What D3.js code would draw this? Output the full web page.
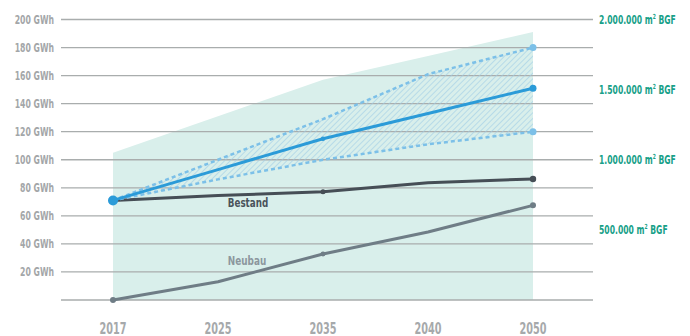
<!DOCTYPE html>
<html><head><meta charset="utf-8">
<script src="https://cdn.jsdelivr.net/npm/d3@7"></script>
<style>
html,body{margin:0;padding:0;background:#fff;}
svg{display:block;font-family:"DejaVu Sans Condensed","DejaVu Sans",sans-serif;}
</style></head>
<body><svg id="c" width="690" height="336"></svg>
<script>
const years = ["2017","2025","2035","2040","2050"];
const potential = [105, 131, 157, 174, 191];
const upper = [71, 100, 129, 161, 180];
const lower = [71, 86, 100, 111, 120];
const mid = [71, 93, 115, 133, 151];
const bestand = [71, 74.5, 77.2, 83.6, 86.3];
const neubau = [0, 13, 32.8, 48.5, 67.5];
const leftTicks = [20,40,60,80,100,120,140,160,180,200];
const gridTicks = [0,20,40,60,80,100,120,140,160,180,200];
const rightTicks = [500000,1000000,1500000,2000000];
const rightLabels = ["500.000","1.000.000","1.500.000","2.000.000"];

const svg = d3.select("#c");
const x = d3.scalePoint().domain(years).range([113,533]);
const y = d3.scaleLinear().domain([0,200]).range([300,19.5]);
const y2 = d3.scaleLinear().domain([0,2000000]).range([300,19.5]);

const defs = svg.append("defs");
const pat = defs.append("pattern").attr("id","hatch").attr("patternUnits","userSpaceOnUse")
  .attr("width",4).attr("height",4).attr("patternTransform","rotate(45)");
pat.append("line").attr("x1",0).attr("y1",0).attr("x2",0).attr("y2",4)
  .attr("stroke","#9fcde6").attr("stroke-width",1.2);

// background potential area
svg.append("path").datum(potential)
  .attr("d", d3.area().x((d,i)=>x(years[i])).y0(y(0)).y1(d=>y(d)))
  .attr("fill","#d9efeb");

// grid
svg.append("g").selectAll("line").data(gridTicks).join("line")
  .attr("x1",61).attr("x2",593).attr("y1",d=>y(d)).attr("y2",d=>y(d))
  .attr("stroke","#a9adad").attr("stroke-width",1.3);

// left labels
svg.append("g").selectAll("text").data(leftTicks).join("text")
  .attr("transform",d=>`translate(54,${y(d)}) scale(0.75,1)`)
  .attr("dy","0.36em").attr("text-anchor","end")
  .attr("font-size",11.5).attr("font-weight","bold").attr("fill","#a3a6a8")
  .text(d=>d+" GWh");

// right labels
const rl = svg.append("g").selectAll("text").data(rightTicks).join("text")
  .attr("transform",d=>`translate(599,${y2(d)+4.3}) scale(0.71,1)`)
  .attr("font-size",12).attr("font-weight","bold").attr("fill","#17a088");
rl.append("tspan").text((d,i)=>rightLabels[i]+" m");
rl.append("tspan").attr("font-size",7).attr("dy",-5).text("2");
rl.append("tspan").attr("dy",5).text(" BGF");

// year labels
svg.append("g").selectAll("text").data(years).join("text")
  .attr("transform",d=>`translate(${x(d)},334) scale(0.72,1)`)
  .attr("text-anchor","middle")
  .attr("font-size",15).attr("font-weight","bold").attr("fill","#a6a9ab")
  .text(d=>d);

const curve = d3.curveLinear;
// hatched band
svg.append("path").datum(years)
  .attr("d", d3.area().curve(curve).x(d=>x(d)).y0((d,i)=>y(lower[i])).y1((d,i)=>y(upper[i])))
  .attr("fill","url(#hatch)");

const line = d3.line().curve(curve).x((d,i)=>x(years[i])).y(d=>y(d));
function drawLine(data,color,w,dash){
  svg.append("path").datum(data).attr("d",line).attr("fill","none")
    .attr("stroke",color).attr("stroke-width",w).attr("stroke-dasharray",dash||null)
    .attr("stroke-linecap", dash? "butt":"round").attr("stroke-linejoin","round");
}
drawLine(neubau,"#6f7d86",3);
drawLine(bestand,"#464e56",3);
drawLine(upper,"#7cc0e8",2.5,"4,3");
drawLine(lower,"#7cc0e8",2.5,"4,3");
drawLine(mid,"#2b9bd8",3);

function dot(series,i,r,color){
  svg.append("circle").attr("cx",x(years[i])).attr("cy",y(series[i])).attr("r",r).attr("fill",color);
}
dot(neubau,0,3,"#6f7d86"); dot(neubau,2,2.5,"#6f7d86"); dot(neubau,4,3,"#6f7d86");
dot(bestand,2,2.5,"#464e56"); dot(bestand,4,3.2,"#464e56");
dot(upper,4,3.5,"#7cc0e8"); dot(lower,4,3.5,"#7cc0e8");
dot(mid,2,2.2,"#2b9bd8"); dot(mid,4,3.5,"#2b9bd8");
dot(mid,0,5,"#2b9bd8");

// series labels
svg.append("text").attr("transform","translate(248,207) scale(0.75,1)").attr("text-anchor","middle")
  .attr("font-size",13).attr("font-weight","bold").attr("fill","#4a535b").text("Bestand");
svg.append("text").attr("transform","translate(247,265) scale(0.76,1)").attr("text-anchor","middle")
  .attr("font-size",13).attr("font-weight","bold").attr("fill","#8c979e").text("Neubau");
</script></body></html>
